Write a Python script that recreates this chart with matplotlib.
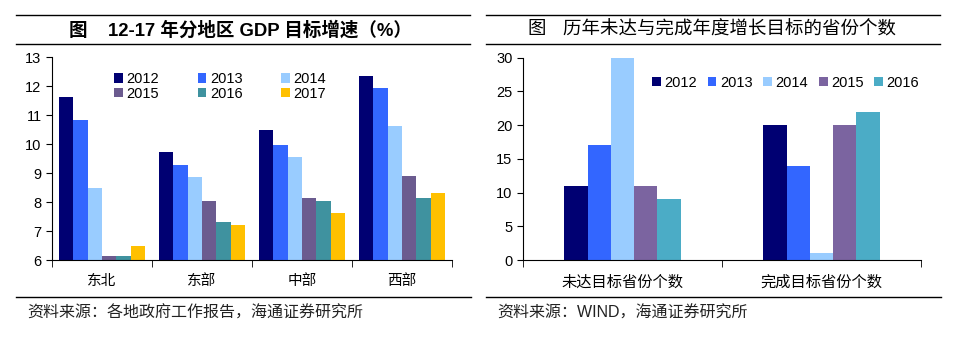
import matplotlib
matplotlib.use("Agg")
import matplotlib.pyplot as plt
import numpy as np
from matplotlib.lines import Line2D

plt.rcParams['font.family'] = ['Liberation Sans', 'Noto Sans CJK SC', 'DejaVu Sans']

# ---- data ----
regions = ['东北', '东部', '中部', '西部']
years_left = ['2012', '2013', '2014', '2015', '2016', '2017']
gdp_2012 = [11.63, 9.72, 10.48, 12.35]
gdp_2013 = [10.82, 9.28, 9.98, 11.93]
gdp_2014 = [8.48, 8.87, 9.56, 10.64]
gdp_2015 = [6.15, 8.03, 8.14, 8.89]
gdp_2016 = [6.15, 7.32, 8.05, 8.14]
gdp_2017 = [6.48, 7.20, 7.64, 8.32]

cats_right = ['未达目标省份个数', '完成目标省份个数']
years_right = ['2012', '2013', '2014', '2015', '2016']
cnt_2012 = [11, 20]
cnt_2013 = [17, 14]
cnt_2014 = [30, 1]
cnt_2015 = [11, 20]
cnt_2016 = [9, 22]

title_left = '图    12-17 年分地区 GDP 目标增速（%）'
title_right = '图    历年未达与完成年度增长目标的省份个数'
src_left = '资料来源：各地政府工作报告，海通证券研究所'
src_right = '资料来源：WIND，海通证券研究所'

col_left = ['#000072', '#3366FF', '#99CCFF', '#6B5B8F', '#3F929F', '#FFC000']
col_right = ['#000072', '#3366FF', '#99CCFF', '#7B64A0', '#4BACC6']

W, H = 972, 353
fig = plt.figure(figsize=(W/100, H/100), dpi=100)

def fx(px): return px / W
def fy(py): return 1 - py / H

cjk = ['Noto Sans CJK SC', 'DejaVu Sans']
latcjk = ['Liberation Sans', 'Noto Sans CJK SC']

# ---- rules & titles ----
for (x0, x1) in [(16, 470), (486, 940)]:
    for y in [14.5, 44]:
        fig.add_artist(Line2D([fx(x0), fx(x1)], [fy(y), fy(y)], color='black', lw=1.0))
    fig.add_artist(Line2D([fx(x0), fx(x1 + 1)], [fy(297), fy(297)], color='black', lw=1.0))

fig.text(fx(240), fy(30), title_left, ha='center', va='center', fontsize=13.3,
         fontweight='bold', family=latcjk)
fig.text(fx(712), fy(30), title_right, ha='center', va='center', fontsize=13.3,
         family=cjk)
fig.text(fx(27), fy(313), src_left, ha='left', va='center', fontsize=11.5, family=cjk, color='#222222')
fig.text(fx(497), fy(313), src_right, ha='left', va='center', fontsize=11.5,
         family=latcjk, color='#222222')

def style_axes(ax, ncat):
    ax.spines['top'].set_visible(False)
    ax.spines['right'].set_visible(False)
    ax.set_xlim(0, ncat)
    ax.set_xticks(np.arange(ncat) + 0.5)
    ax.set_xticks(np.arange(ncat + 1), minor=True)
    ax.tick_params(axis='x', which='major', length=0, pad=10)
    ax.tick_params(axis='x', which='minor', length=5, direction='out')
    ax.tick_params(axis='y', length=4, direction='out', labelsize=10.5)
    for lab in ax.get_yticklabels():
        lab.set_fontfamily('Liberation Sans')

# ---- left chart ----
axL = fig.add_axes([fx(52), fy(260), fx(452) - fx(52), fy(57.3) - fy(260)])
series_l = [gdp_2012, gdp_2013, gdp_2014, gdp_2015, gdp_2016, gdp_2017]
bw = 0.144
x = np.arange(len(regions))
start = 0.5 - 3 * bw
for i, (vals, c) in enumerate(zip(series_l, col_left)):
    v = np.array(vals)
    axL.bar(x + start + i * bw + bw / 2, v - 6, bottom=6, width=bw, color=c,
            label=years_left[i], edgecolor='none')
axL.set_ylim(6, 13)
axL.set_yticks(range(6, 14))
style_axes(axL, len(regions))
axL.set_xticklabels(regions, family=cjk, fontsize=10.5)
handles, labels = axL.get_legend_handles_labels()
order = [0, 3, 1, 4, 2, 5]
axL.legend([handles[k] for k in order], [labels[k] for k in order], ncol=3,
           loc='upper left', bbox_to_anchor=(0.14, 0.955),
           frameon=False, fontsize=10.5, handlelength=0.6, handleheight=0.6,
           handletextpad=0.25, columnspacing=2.65, labelspacing=0.05, borderaxespad=0)

# ---- right chart ----
axR = fig.add_axes([fx(523), fy(260), fx(921) - fx(523), fy(57.7) - fy(260)])
series_r = [cnt_2012, cnt_2013, cnt_2014, cnt_2015, cnt_2016]
bw2 = 0.117
x2 = np.arange(len(cats_right))
start2 = 0.5 - 2.5 * bw2
for i, (vals, c) in enumerate(zip(series_r, col_right)):
    axR.bar(x2 + start2 + i * bw2 + bw2 / 2, vals, width=bw2, color=c,
            label=years_right[i], edgecolor='none')
axR.set_ylim(0, 30)
axR.set_yticks(range(0, 31, 5))
style_axes(axR, len(cats_right))
axR.set_xticklabels(cats_right, family=cjk, fontsize=11)
axR.legend(ncol=5, loc='upper left', bbox_to_anchor=(0.31, 0.94),
           frameon=False, fontsize=10.5, handlelength=0.6, handleheight=0.6,
           handletextpad=0.25, columnspacing=0.72, borderaxespad=0)

fig.savefig('out.png', dpi=100)
